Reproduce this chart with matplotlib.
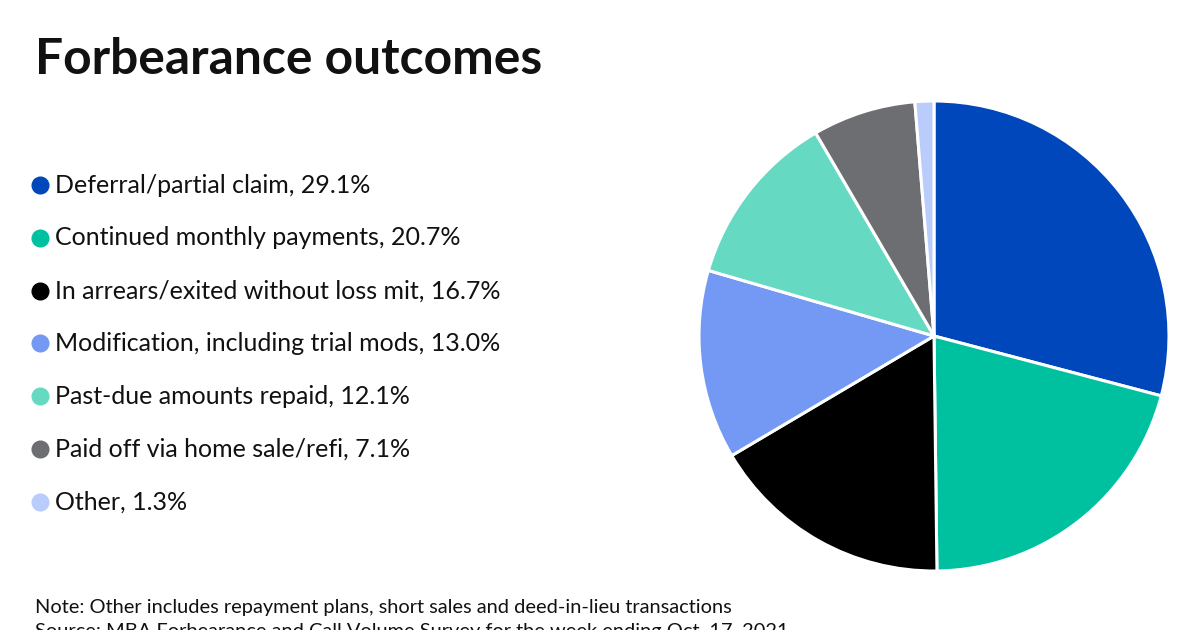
import matplotlib
matplotlib.use("Agg")
from matplotlib import pyplot as plt
from matplotlib.lines import Line2D

plt.rcParams['font.family'] = ['Lato', 'DejaVu Sans']

categories = [
    "Deferral/partial claim",
    "Continued monthly payments",
    "In arrears/exited without loss mit",
    "Modification, including trial mods",
    "Past-due amounts repaid",
    "Paid off via home sale/refi",
    "Other",
]
shares = [29.1, 20.7, 16.7, 13.0, 12.1, 7.1, 1.3]
colors = ["#0047BB", "#00C19F", "#000000", "#7399F5", "#66D9C3", "#6D6E71", "#B9CCFB"]

W, H = 1200, 630
fig = plt.figure(figsize=(12, 6.3), dpi=100)
fig.patch.set_facecolor("white")

# pie on the right
cx, cy, r = 934, 336, 235
ax = fig.add_axes([(cx - r) / W, (H - cy - r) / H, 2 * r / W, 2 * r / H])
ax.pie(shares, colors=colors, startangle=90, counterclock=False,
       wedgeprops=dict(edgecolor="white", linewidth=2.2))
ax.set_xlim(-1.0, 1.0)
ax.set_ylim(-1.0, 1.0)
ax.set_aspect("auto")
ax.axis("off")

# title
fig.text(35 / W, 1 - 60 / H, "Forbearance outcomes", fontsize=35.8, fontweight="bold",
         va="center", ha="left", color="#111111")

# legend
y0, step = 185, 52.8
for i, (cat, val, col) in enumerate(zip(categories, shares, colors)):
    y = 1 - (y0 + i * step) / H
    fig.add_artist(Line2D([40 / W], [y], marker="o", markersize=12, color=col,
                          linestyle="", transform=fig.transFigure))
    fig.text(55 / W, y, f"{cat}, {val:.1f}%", fontsize=18, va="center", ha="left",
             color="#111111")

# footnotes (source line is clipped by the bottom edge, as in the original)
fig.text(35 / W, 1 - 608 / H,
         "Note: Other includes repayment plans, short sales and deed-in-lieu transactions",
         fontsize=14.4, va="center", ha="left", color="#111111")
fig.text(35 / W, 1 - 631 / H,
         "Source: MBA Forbearance and Call Volume Survey for the week ending Oct. 17, 2021",
         fontsize=14.4, va="center", ha="left", color="#111111")

fig.savefig("out.png", dpi=100, facecolor="white")
